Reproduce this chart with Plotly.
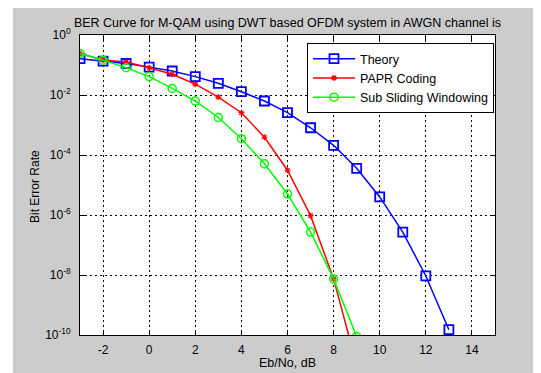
import plotly.graph_objects as go

# ---- data ----
snr_theory = [-3, -2, -1, 0, 1, 2, 3, 4, 5, 6, 7, 8, 9, 10, 11, 12, 13]
ber_theory = [0.162, 0.135, 0.112, 0.085, 0.063, 0.041, 0.0245, 0.0129, 6.3e-3,
              2.57e-3, 8.1e-4, 2.1e-4, 3.6e-5, 4.0e-6, 2.7e-7, 9.3e-9, 1.5e-10]

snr_papr = [-3, -2, -1, 0, 1, 2, 3, 4, 5, 6, 7, 8, 9]
ber_papr = [0.24, 0.148, 0.126, 0.081, 0.049, 0.023, 8.5e-3, 2.57e-3, 3.9e-4,
            3.1e-5, 9.5e-7, 7.4e-9, 1.0e-11]

snr_ssw = [-3, -2, -1, 0, 1, 2, 3, 4, 5, 6, 7, 8, 9]
ber_ssw = [0.24, 0.145, 0.081, 0.041, 0.0166, 6.3e-3, 1.78e-3, 3.5e-4, 5.1e-5,
           5.0e-6, 2.7e-7, 7.4e-9, 8.9e-11]

x_ticks = [-2, 0, 2, 4, 6, 8, 10, 12, 14]
x_tick_text = ["-2", "0", "2", "4", "6", "8", "10", "12", "14"]
y_tick_vals = [1, 1e-2, 1e-4, 1e-6, 1e-8, 1e-10]
y_tick_text = ["10<sup>0</sup>", "10<sup>-2</sup>", "10<sup>-4</sup>",
               "10<sup>-6</sup>", "10<sup>-8</sup>", "10<sup>-10</sup>"]

title_text = "BER Curve for M-QAM using DWT based OFDM system in AWGN channel is"
x_title = "Eb/No, dB"
y_title = "Bit Error Rate"
FONT = "Liberation Sans, Arial, sans-serif"

fig = go.Figure()
fig.add_trace(go.Scatter(
    x=snr_theory, y=ber_theory, name="Theory", mode="lines+markers",
    line=dict(color="#0000ff", width=1.5),
    marker=dict(symbol="square-open", size=9, color="#0000ff", line=dict(width=1.8, color="#0000ff")),
))
fig.add_trace(go.Scatter(
    x=snr_papr, y=ber_papr, name="PAPR Coding", mode="lines+markers",
    line=dict(color="#ff0000", width=1.5),
    marker=dict(symbol="asterisk-open", size=5, color="#ff0000", line=dict(width=1.2, color="#ff0000")),
))
fig.add_trace(go.Scatter(
    x=snr_ssw, y=ber_ssw, name="Sub Sliding Windowing", mode="lines+markers",
    line=dict(color="#00ff00", width=1.5),
    marker=dict(symbol="circle-open", size=8, color="#00ff00", line=dict(width=1.5, color="#00ff00")),
))

# the page body adds an 8px offset, so figure coords = window coords - 8
OFF = 8
W, H = 541 - OFF, 373 - OFF
L, R, T, B = 80 - OFF, 495 - OFF, 35 - OFF, 335 - OFF
pw, ph = R - L, B - T

def px_x(p):
    return (p - OFF - L) / pw

def px_y(p):
    return (B - (p - OFF)) / ph

fig.update_layout(
    width=W, height=H,
    margin=dict(l=L, r=W - R, t=T, b=H - B, autoexpand=False),
    paper_bgcolor="#cccccc",
    plot_bgcolor="#ffffff",
    font=dict(family=FONT, size=12, color="#000000"),
    title=dict(text=title_text, font=dict(size=12.5, color="#000000"),
               x=(L + pw / 2) / W, xanchor="center", xref="container",
               y=1 - (23 - OFF) / H, yanchor="middle", yref="container"),
    showlegend=True,
    legend=dict(x=px_x(307), y=px_y(43), xanchor="left", yanchor="top",
                bgcolor="#ffffff", bordercolor="#000000", borderwidth=1,
                font=dict(size=12.5, color="#000000"), tracegroupgap=0,
                itemwidth=42),
    shapes=[
        dict(type="rect", xref="paper", yref="paper", x0=px_x(0), x1=px_x(13),
             y0=px_y(400), y1=px_y(0), fillcolor="#ffffff", line=dict(width=0), layer="below"),
    ],
    annotations=[
        dict(text=x_title, xref="paper", yref="paper", x=0.5, y=px_y(363),
             xanchor="center", yanchor="middle", showarrow=False,
             font=dict(size=12.5, color="#000000")),
        dict(text=y_title, xref="paper", yref="paper", x=px_x(35), y=px_y(187),
             xanchor="center", yanchor="middle", showarrow=False, textangle=-90,
             font=dict(size=12, color="#000000")),
    ],
)

fig.update_xaxes(
    range=[-3, 15], tickvals=x_ticks, ticktext=x_tick_text,
    ticks="inside", ticklen=5, tickcolor="#000000",
    showline=True, linecolor="#000000", linewidth=1, mirror="ticks",
    showgrid=True, gridcolor="#000000", gridwidth=1, griddash="2px,3px",
    zeroline=False, tickfont=dict(size=12, color="#000000"), ticklabelstandoff=4,
)
fig.update_yaxes(
    type="log", range=[-10, 0], tickvals=y_tick_vals, ticktext=y_tick_text,
    ticks="inside", ticklen=5, tickcolor="#000000",
    showline=True, linecolor="#000000", linewidth=1, mirror="ticks",
    showgrid=True, gridcolor="#000000", gridwidth=1, griddash="2px,3px",
    zeroline=False, tickfont=dict(size=12, color="#000000"), ticklabelstandoff=6,
)

fig.write_html("out.html")
